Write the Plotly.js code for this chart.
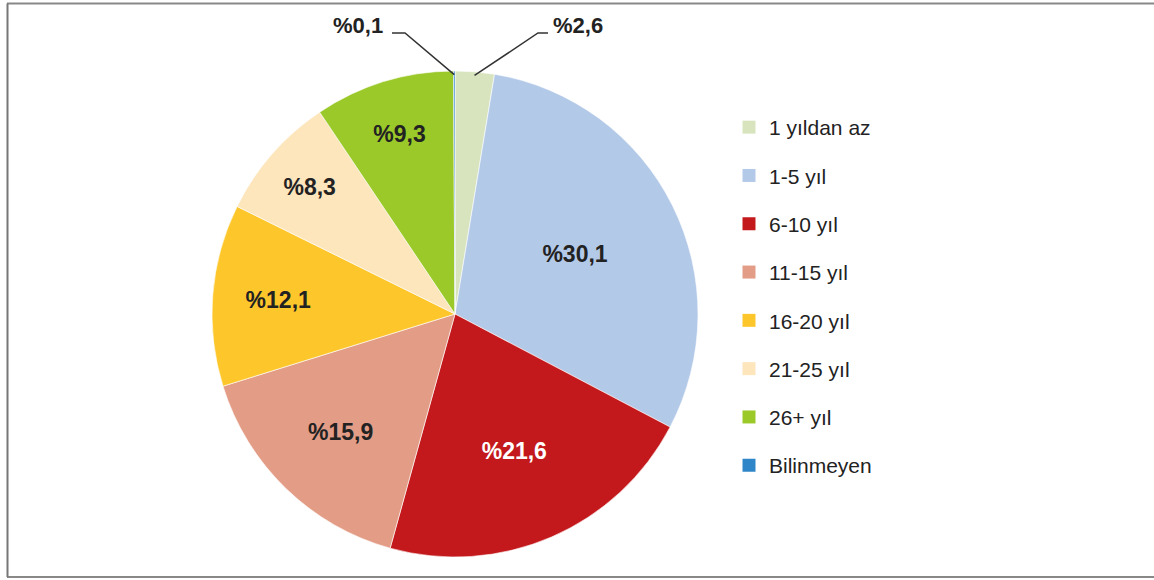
<!DOCTYPE html>
<html>
<head>
<meta charset="utf-8">
<script src="https://cdn.plot.ly/plotly-3.0.1.min.js"></script>
<style>html,body{margin:0;padding:0;background:#fff;}#chart{width:1154px;height:580px;}</style>
</head>
<body>
<div id="chart"></div>
<script>
const categories = ['1 yıldan az', '1-5 yıl', '6-10 yıl', '11-15 yıl', '16-20 yıl', '21-25 yıl', '26+ yıl', 'Bilinmeyen'];
const values = [2.6, 30.1, 21.6, 15.9, 12.1, 8.3, 9.3, 0.1];
const valueLabels = ['%2,6', '%30,1', '%21,6', '%15,9', '%12,1', '%8,3', '%9,3', '%0,1'];
const colors = ['#D7E4BD', '#B3C9E8', '#C4191C', '#E39D86', '#FDC72C', '#FDE5BC', '#9BC92A', '#2E86C8'];
const textColors = ['#222', '#222', '#ffffff', '#222', '#222', '#222', '#222', '#222'];

const W = 1154, H = 580;
const cx = 455, cy = 314, R = 243;
const px = x => x / W;
const py = y => 1 - y / H;

const insideMask = values.map(v => v >= 3);

const pie = {
  type: 'pie',
  labels: categories,
  values: values,
  text: valueLabels,
  textinfo: 'text',
  textposition: insideMask.map(m => m ? 'inside' : 'none'),
  insidetextorientation: 'horizontal',
  insidetextfont: {family: 'Liberation Sans, Arial, sans-serif', size: 23, color: textColors, weight: 'bold'},
  sort: false,
  direction: 'clockwise',
  rotation: 0,
  marker: {colors: colors, line: {color: 'rgba(255,255,255,0.6)', width: 1}},
  domain: {x: [px(cx - R), px(cx + R)], y: [py(cy + R), py(cy - R)]},
  showlegend: false,
  hoverinfo: 'label+percent'
};

// legend entries (one per category)
const legendTraces = categories.map((c, i) => ({
  type: 'scatter', mode: 'markers', x: [null], y: [null],
  name: c, legendgroup: 'g' + i,
  marker: {symbol: 'square', size: 13, color: colors[i]},
  hoverinfo: 'skip'
}));

// outside labels with leader lines for small slices
const total = values.reduce((a, b) => a + b, 0);
const cum = [];
values.reduce((acc, v, i) => { cum[i] = acc; return acc + v; }, 0);
const midAngle = i => (cum[i] + values[i] / 2) / total * 2 * Math.PI;
const edgePoint = i => {
  const a = midAngle(i);
  return [cx + R * 0.985 * Math.sin(a), cy - R * 0.985 * Math.cos(a)];
};

const annotations = [];
const shapes = [];
const outside = [
  {i: 7, tx: 358, ty: 25, hx0: 392, hx1: 405, hy: 33},
  {i: 0, tx: 578, ty: 25, hx0: 548, hx1: 538, hy: 33}
];
outside.forEach(o => {
  annotations.push({
    xref: 'paper', yref: 'paper', x: px(o.tx), y: py(o.ty),
    xanchor: 'center', yanchor: 'middle', showarrow: false,
    text: '<b>' + valueLabels[o.i] + '</b>',
    font: {family: 'Liberation Sans, Arial, sans-serif', size: 22, color: '#222'}
  });
  const [ex, ey] = edgePoint(o.i);
  shapes.push({
    type: 'path', xref: 'paper', yref: 'paper',
    path: `M ${px(o.hx0)} ${py(o.hy)} L ${px(o.hx1)} ${py(o.hy)} L ${px(ex)} ${py(ey)}`,
    line: {color: '#333', width: 1.5}
  });
});

// frame
shapes.push(
  {type: 'line', xref: 'paper', yref: 'paper', x0: px(7), x1: 1, y0: py(3.5), y1: py(3.5), line: {color: '#888', width: 2}},
  {type: 'line', xref: 'paper', yref: 'paper', x0: px(7), x1: 1, y0: py(577), y1: py(577), line: {color: '#888', width: 2}},
  {type: 'line', xref: 'paper', yref: 'paper', x0: px(7.5), x1: px(7.5), y0: py(3.5), y1: py(577), line: {color: '#777', width: 2}}
);

const layout = {
  width: W, height: H,
  margin: {l: 0, r: 0, t: 0, b: 0},
  paper_bgcolor: '#fff', plot_bgcolor: '#fff',
  xaxis: {visible: false, range: [0, 1], domain: [0.98, 1]},
  yaxis: {visible: false, range: [0, 1], domain: [0.98, 1]},
  showlegend: true,
  legend: {
    x: px(729), y: py(107), xanchor: 'left', yanchor: 'top',
    font: {family: 'Liberation Sans, Arial, sans-serif', size: 21, color: '#222'},
    tracegroupgap: 18, itemwidth: 30, bgcolor: 'rgba(0,0,0,0)'
  },
  annotations: annotations,
  shapes: shapes
};

Plotly.newPlot('chart', [pie].concat(legendTraces), layout, {displayModeBar: false, staticPlot: true});
</script>
</body>
</html>
